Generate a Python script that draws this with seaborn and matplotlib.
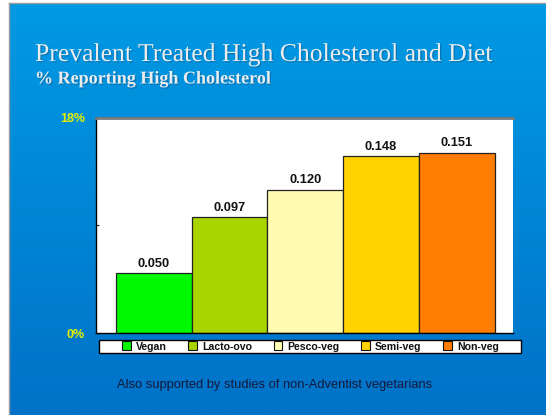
import numpy as np
import pandas as pd
import matplotlib
matplotlib.use("Agg")
import matplotlib.pyplot as plt
import matplotlib.patheffects as pe
import seaborn as sns

# chart data
diets = ["Vegan", "Lacto-ovo", "Pesco-veg", "Semi-veg", "Non-veg"]
prevalence = [0.050, 0.097, 0.120, 0.148, 0.151]
bar_colors = ["#00f800", "#a8d400", "#fffbb0", "#ffd200", "#ff7d00"]
y_ticks = [0.0, 0.09, 0.18]
y_tick_labels = ["0%", "", "18%"]

df = pd.DataFrame({"Diet": diets, "Prevalence": prevalence})

sns.set_style("white")
plt.rcParams["font.family"] = ["Liberation Sans", "DejaVu Sans"]

W, H = 546, 415
fig = plt.figure(figsize=(W / 100, H / 100), dpi=100)
fig.patch.set_facecolor("white")

# slide background with gradient
bg = fig.add_axes([9 / W, 0, (W - 9) / W, (H - 3) / H])
grad = np.linspace(0, 1, 256).reshape(-1, 1)
top = np.array([0x00, 0x9a, 0xe4]) / 255
bot = np.array([0x00, 0x72, 0xc8]) / 255
img = top + (bot - top) * grad[:, :, None]
bg.imshow(img, aspect="auto", extent=[0, 1, 0, 1])
bg.set_xlim(0, 1)
bg.set_ylim(0, 1)
bg.set_xticks([])
bg.set_yticks([])
for s in ["top", "left"]:
    bg.spines[s].set_color("#9a9a9a")
    bg.spines[s].set_linewidth(1)
for s in ["bottom", "right"]:
    bg.spines[s].set_visible(False)

# titles
t1 = fig.text(35 / W, 1 - 55 / H, "Prevalent Treated High Cholesterol and Diet",
              family=["Liberation Serif"], fontsize=18.5, color="#ececec",
              va="center", ha="left")
t2 = fig.text(35 / W, 1 - 79 / H, "% Reporting High Cholesterol",
              family=["Liberation Serif"], fontsize=13, fontweight="bold",
              color="#ececec", va="center", ha="left")
for t in (t1, t2):
    t.set_path_effects([pe.SimplePatchShadow(offset=(1, -1), shadow_rgbFace="#1a3a60", alpha=0.3),
                        pe.Normal()])

# plot area
ax = fig.add_axes([96 / W, (H - 333) / H, (513 - 96) / W, (333 - 118) / H])
sns.barplot(data=df, x="Diet", y="Prevalence", hue="Diet", palette=bar_colors,
            width=1.0, dodge=False, saturation=1, edgecolor="#222222",
            linewidth=0.9, legend=False, ax=ax)
ax.set_facecolor("white")
ax.set_xlim(-0.76, 4.74)
ax.set_ylim(0, 0.18)
ax.set_xticks([])
ax.set_xlabel("")
ax.set_ylabel("")
ax.set_yticks(y_ticks)
ax.set_yticklabels(y_tick_labels)
ax.tick_params(axis="y", direction="in", length=2, width=0.8, pad=8,
               labelsize=9, labelcolor="#e6f000", left=True)
for lab in ax.get_yticklabels():
    lab.set_fontweight("bold")
ax.spines["top"].set_color("#7a7a7a")
ax.spines["top"].set_linewidth(2)
ax.spines["left"].set_color("black")
ax.spines["left"].set_linewidth(1)
ax.spines["bottom"].set_color("black")
ax.spines["bottom"].set_linewidth(1)
ax.spines["right"].set_visible(False)

for i, v in enumerate(prevalence):
    ax.text(i, v + 0.003, f"{v:.3f}", ha="center", va="bottom",
            fontsize=9.3, fontweight="bold", color="#111111")

# legend frame drawn separately for exact size
frame = plt.Rectangle((99 / W, 1 - 353 / H), (521 - 99) / W, 13 / H,
                      transform=fig.transFigure, facecolor="white",
                      edgecolor="black", linewidth=1, zorder=5)
fig.patches.append(frame)
handles = [plt.Rectangle((0, 0), 1, 1, facecolor=c, edgecolor="#111111", linewidth=0.8)
           for c in bar_colors]
leg = fig.legend(handles, diets, ncol=5, loc="center",
                 bbox_to_anchor=(310.5 / W, 1 - 346.5 / H),
                 frameon=False, fontsize=7.6,
                 handlelength=0.8, handleheight=0.9, handletextpad=0.5,
                 columnspacing=2.05, borderpad=0.0)
leg.set_zorder(6)
for t in leg.get_texts():
    t.set_fontweight("bold")
    t.set_color("#111111")

# footer note
fig.text(117 / W, 1 - 385 / H, "Also supported by studies of non-Adventist vegetarians",
         fontsize=9.3, color="#15183a", va="center", ha="left")

fig.savefig("out.png", dpi=100)
